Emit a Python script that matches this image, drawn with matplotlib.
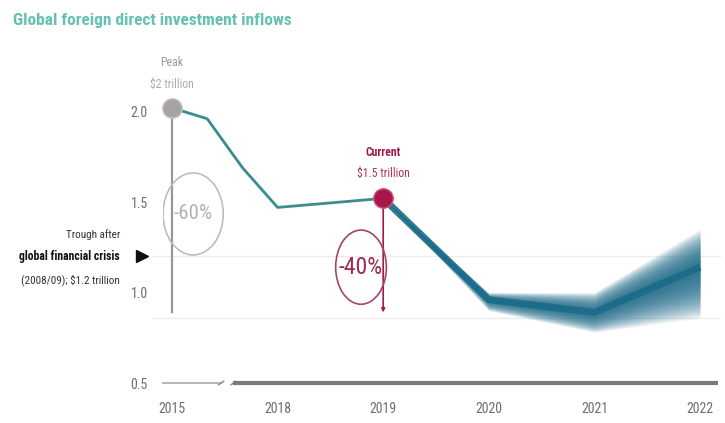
import matplotlib
matplotlib.use("Agg")
import matplotlib.pyplot as plt
from matplotlib import font_manager
from matplotlib.patches import Ellipse
import numpy as np

# ---------------- data ----------------
hist_years = [2015, 2016, 2017, 2018, 2019]
hist_values = [2.02, 1.96, 1.69, 1.47, 1.52]

proj_years = [2019, 2020, 2021, 2022]
proj_center = [1.52, 0.96, 0.89, 1.14]
proj_upper = [1.52, 1.00, 1.00, 1.35]
proj_lower = [1.52, 0.90, 0.78, 0.86]

tick_years = [2015, 2018, 2019, 2020, 2021, 2022]
tick_labels = ["2015", "2018", "2019", "2020", "2021", "2022"]
y_ticks = [0.5, 1.0, 1.5, 2.0]
y_tick_labels = ["0.5", "1.0", "1.5", "2.0"]

peak_value = 2.02
current_value = 1.52
trough_value = 1.2
drop_level = 0.89
grid_levels = [1.2, 0.86]

title = "Global foreign direct investment inflows"
peak_labels = ["Peak", "$2 trillion"]
current_labels = ["Current", "$1.5 trillion"]
trough_labels = ["Trough after", "global financial crisis", "(2008/09); $1.2 trillion"]
drop_labels = ["-60%", "-40%"]


def pos(year):
    """Broken x scale: 2015-2018 compressed into one unit."""
    year = np.asarray(year, dtype=float)
    return np.where(year <= 2018, (year - 2015) / 3.0, year - 2017)


# ---------------- font selection (prefer a condensed face) ----------------
def _stretch_val(st):
    if isinstance(st, str):
        return font_manager.stretch_dict.get(st, 500)
    return st


def _weight_val(w):
    if isinstance(w, str):
        return font_manager.weight_dict.get(w, 400)
    return w


def pick_font(bold):
    prefs = ["Liberation Sans Narrow", "Roboto Condensed", "Open Sans Condensed",
             "DejaVu Sans Condensed", "DejaVu Sans", "Noto Sans", "Open Sans",
             "Roboto", "Lato", "Inter"]
    best = None
    for f in font_manager.fontManager.ttflist:
        sv = _stretch_val(f.stretch)
        narrow = ("Narrow" in f.name or "Condensed" in f.name or sv < 500
                  or "Condensed" in f.fname or "Narrow" in f.fname)
        if not narrow:
            continue
        if "Oblique" in f.fname or "Italic" in f.fname or f.style != "normal":
            continue
        wv = _weight_val(f.weight)
        want = 700 if bold else 400
        rank = prefs.index(f.name) if f.name in prefs else len(prefs)
        score = (rank, abs(wv - want))
        if best is None or score < best[0]:
            best = (score, f.fname)
    if best is not None and best[0][1] <= 150:
        return font_manager.FontProperties(fname=best[1]), True
    return font_manager.FontProperties(family="DejaVu Sans",
                                       weight="bold" if bold else "normal"), False


FP_REG, COND = pick_font(False)
FP_BOLD, COND_B = pick_font(True)


def fp(size, bold=False):
    p = (FP_BOLD if bold else FP_REG).copy()
    p.set_size(size * (1.0 if (COND_B if bold else COND) else 0.85))
    return p


TEAL_HIST = "#3a8c8f"
TEAL_PROJ = "#1b6b89"
CRIMSON = "#a8174a"
GREY = "#a7a3a3"
TXT = "#6e6e6e"

W, H = 725, 423
fig = plt.figure(figsize=(W / 100, H / 100), dpi=100)
fig.patch.set_facecolor("white")

left_px, right_px, top_px, bottom_px = 163, 720, 60, 383
ax = fig.add_axes([left_px / W, 1 - bottom_px / H,
                   (right_px - left_px) / W, (bottom_px - top_px) / H])
x0_px, ppu_x = 172, 105.6
ppu_y = 181.0
ax.set_xlim((left_px - x0_px) / ppu_x, (right_px - x0_px) / ppu_x)
ax.set_ylim(0.5, 0.5 + (bottom_px - top_px) / ppu_y)
for s in ax.spines.values():
    s.set_visible(False)

# ticks
ax.set_yticks(y_ticks)
ax.set_yticklabels(y_tick_labels)
ax.set_xticks(pos(tick_years))
ax.set_xticklabels(tick_labels)
ax.tick_params(axis="both", length=0, colors=TXT)
ax.tick_params(axis="y", pad=11)
ax.tick_params(axis="x", pad=14)
for lab in ax.get_xticklabels() + ax.get_yticklabels():
    lab.set_fontproperties(fp(10))

# faint gridlines
for g in grid_levels:
    ax.axhline(g, xmin=-0.02, xmax=1.0, color="#ececec", lw=1.0, zorder=0, clip_on=False)

# bottom broken axis
xl = ax.get_xlim()
ax.plot([xl[0], 0.46], [0.5, 0.5], color="#b0b0b0", lw=1.3, clip_on=False, zorder=3)
ax.plot([0.44, 0.49], [0.49, 0.51], color="#888888", lw=1.0, clip_on=False, zorder=3)
ax.plot([0.56, 0.60], [0.49, 0.51], color="#888888", lw=1.0, clip_on=False, zorder=3)
ax.plot([0.58, 5.17], [0.5, 0.5], color="#7a7a7a", lw=3.0, clip_on=False, zorder=3,
        solid_capstyle="butt")

# projection gradient band
px = pos(proj_years)
c = np.array(proj_center)
u = np.array(proj_upper)
l = np.array(proj_lower)
for f in np.linspace(1.0, 0.04, 28):
    ax.fill_between(px, c - f * (c - l), c + f * (u - c), color=TEAL_PROJ,
                    alpha=0.075, lw=0, zorder=2)
ax.plot(px, c, color=TEAL_PROJ, lw=5, alpha=0.9, zorder=3, solid_capstyle="butt",
        solid_joinstyle="round")

# history line
hx = pos(hist_years)
ax.plot(hx, hist_values, color=TEAL_HIST, lw=2.0, zorder=4, solid_joinstyle="round")

# vertical drop lines
peak_x = float(pos(2015))
cur_x = float(pos(2019))
ax.plot([peak_x, peak_x], [peak_value, drop_level], color="#9a9696", lw=1.6, zorder=3)
ax.annotate("", xy=(cur_x, drop_level), xytext=(cur_x, current_value),
            arrowprops=dict(arrowstyle="-|>", color=CRIMSON, lw=1.2,
                            mutation_scale=5, shrinkA=0, shrinkB=0), zorder=3)

# dots
ax.plot([peak_x], [peak_value], "o", ms=14, color=GREY, mec="#c9c5c5", mew=1, zorder=6,
        clip_on=False)
ax.plot([cur_x], [current_value], "o", ms=14, color=CRIMSON, mec="#d0567a", mew=1,
        zorder=6)

# ellipses with percentages
e1 = Ellipse((0.20, 1.434), 0.57, 0.453, facecolor="none", edgecolor="#bdbdbd",
             lw=1.2, zorder=5)
e2 = Ellipse((1.79, 1.14), 0.48, 0.41, facecolor="none", edgecolor="#a6436a",
             lw=1.2, zorder=5)
ax.add_patch(e1)
ax.add_patch(e2)
ax.text(0.20, 1.434, drop_labels[0], ha="center", va="center",
        fontproperties=fp(15), color="#b3b3b3", zorder=6)
ax.text(1.79, 1.14, drop_labels[1], ha="center", va="center",
        fontproperties=fp(17), color="#9c2a50", zorder=6)

# peak / current labels
ax.annotate(peak_labels[0], xy=(peak_x, peak_value), xytext=(0, 33),
            textcoords="offset points", ha="center", va="center",
            fontproperties=fp(8.5), color="#9b9b9b", annotation_clip=False)
ax.annotate(peak_labels[1], xy=(peak_x, peak_value), xytext=(0, 17),
            textcoords="offset points", ha="center", va="center",
            fontproperties=fp(8.5), color="#ababab", annotation_clip=False)
ax.annotate(current_labels[0], xy=(cur_x, current_value), xytext=(0, 33),
            textcoords="offset points", ha="center", va="center",
            fontproperties=fp(8.5, True), color=CRIMSON)
ax.annotate(current_labels[1], xy=(cur_x, current_value), xytext=(0, 18),
            textcoords="offset points", ha="center", va="center",
            fontproperties=fp(8.5), color="#b0335c")

# trough annotation
ytr = ax.get_yaxis_transform()
ax.plot([-21 / (right_px - left_px)], [trough_value], marker=">", ms=8,
        color="#111111", transform=ytr, clip_on=False, zorder=6)
ax.annotate(trough_labels[0], xy=(0, trough_value), xycoords=("axes fraction", "data"),
            xytext=(-31, 16), textcoords="offset points", ha="right", va="center",
            fontproperties=fp(8), color="#333333", annotation_clip=False)
ax.annotate(trough_labels[1], xy=(0, trough_value), xycoords=("axes fraction", "data"),
            xytext=(-31, 0), textcoords="offset points", ha="right", va="center",
            fontproperties=fp(8.5, True), color="#111111", annotation_clip=False)
ax.annotate(trough_labels[2], xy=(0, trough_value), xycoords=("axes fraction", "data"),
            xytext=(-31, -17), textcoords="offset points", ha="right", va="center",
            fontproperties=fp(8), color="#333333", annotation_clip=False)

# title
fig.text(13 / W, 1 - 21 / H, title, ha="left", va="center",
         fontproperties=fp(12.5, True), color="#66c1b2")

fig.savefig("out.png", dpi=100, facecolor="white")
